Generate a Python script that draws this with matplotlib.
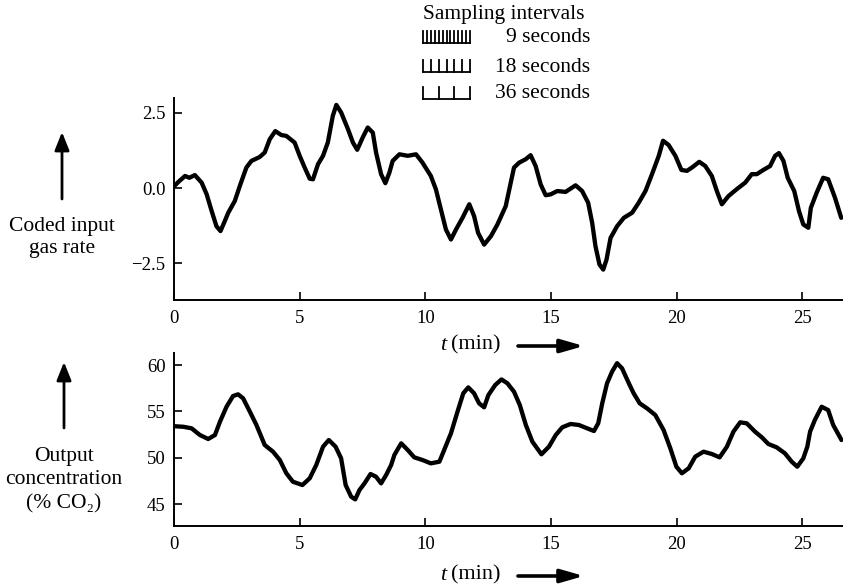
import matplotlib
matplotlib.use("Agg")
import matplotlib.pyplot as plt
from matplotlib.lines import Line2D
from matplotlib.patches import FancyArrowPatch

plt.rcParams['font.family'] = ['Liberation Serif', 'DejaVu Serif']

# Coded input gas rate (time in minutes, coded units)
input_t = [0.0, 0.17, 0.44, 0.61, 0.83, 1.1, 1.3, 1.5, 1.69, 1.85, 2.02, 2.16, 2.42, 2.62,
           2.88, 3.08, 3.41, 3.61, 3.81, 4.03, 4.27, 4.47, 4.8, 5.0, 5.2, 5.4, 5.53, 5.73,
           5.93, 6.12, 6.32, 6.46, 6.65, 6.92, 7.12, 7.29, 7.51, 7.71, 7.91, 8.04, 8.24,
           8.41, 8.57, 8.7, 8.97, 9.3, 9.63, 9.89, 10.22, 10.42, 10.62, 10.82, 11.02,
           11.22, 11.48, 11.75, 11.94, 12.1, 12.34, 12.61, 12.87, 13.2, 13.4, 13.53,
           13.73, 14.0, 14.19, 14.39, 14.59, 14.79, 14.99, 15.25, 15.58, 15.98, 16.24,
           16.48, 16.64, 16.77, 16.93, 17.08, 17.21, 17.37, 17.63, 17.9, 18.23, 18.49,
           18.76, 19.02, 19.29, 19.46, 19.68, 19.95, 20.19, 20.41, 20.61, 20.9, 21.14,
           21.4, 21.6, 21.8, 22.06, 22.39, 22.73, 22.99, 23.19, 23.45, 23.72, 23.92,
           24.07, 24.25, 24.42, 24.68, 24.87, 25.04, 25.24, 25.34, 25.57, 25.83, 26.03,
           26.3, 26.55]
input_val = [0.05, 0.2, 0.4, 0.34, 0.43, 0.18, -0.21, -0.77, -1.27, -1.43, -1.1, -0.82,
             -0.43, 0.07, 0.68, 0.9, 1.03, 1.18, 1.62, 1.89, 1.76, 1.73, 1.51, 1.07, 0.68,
             0.31, 0.29, 0.79, 1.07, 1.51, 2.4, 2.76, 2.51, 1.96, 1.51, 1.27, 1.68, 2.01,
             1.84, 1.18, 0.46, 0.16, 0.51, 0.9, 1.12, 1.07, 1.12, 0.84, 0.4, -0.04, -0.71,
             -1.38, -1.71, -1.38, -0.99, -0.54, -0.93, -1.49, -1.88, -1.6, -1.21, -0.6,
             0.18, 0.68, 0.84, 0.96, 1.09, 0.73, 0.12, -0.24, -0.21, -0.1, -0.13, 0.09,
             -0.1, -0.49, -1.16, -1.93, -2.54, -2.71, -2.38, -1.66, -1.27, -0.99, -0.82,
             -0.49, -0.1, 0.46, 1.07, 1.57, 1.43, 1.07, 0.6, 0.57, 0.68, 0.87, 0.73, 0.4,
             -0.1, -0.54, -0.27, -0.04, 0.18, 0.46, 0.46, 0.6, 0.73, 1.07, 1.16, 0.9, 0.34,
             -0.1, -0.77, -1.21, -1.32, -0.66, -0.16, 0.34, 0.29, -0.32, -0.99]

# Output CO2 concentration (time in minutes, percent CO2)
output_t = [0.0, 0.37, 0.7, 1.03, 1.36, 1.63, 1.83, 2.09, 2.35, 2.55, 2.75, 3.02, 3.28,
            3.61, 3.94, 4.21, 4.47, 4.73, 5.11, 5.4, 5.66, 5.93, 6.16, 6.43, 6.65, 6.83,
            7.05, 7.21, 7.38, 7.58, 7.82, 8.04, 8.24, 8.44, 8.64, 8.77, 9.04, 9.3, 9.56,
            9.89, 10.22, 10.56, 10.75, 11.02, 11.28, 11.51, 11.71, 11.94, 12.14, 12.34,
            12.51, 12.78, 13.03, 13.27, 13.53, 13.76, 14.0, 14.26, 14.62, 14.92, 15.19,
            15.45, 15.78, 16.11, 16.44, 16.71, 16.88, 17.04, 17.23, 17.43, 17.63, 17.83,
            18.1, 18.29, 18.53, 18.82, 19.15, 19.48, 19.75, 19.99, 20.21, 20.48, 20.74,
            21.07, 21.4, 21.71, 22.0, 22.26, 22.53, 22.79, 23.12, 23.39, 23.65, 23.98,
            24.31, 24.58, 24.8, 25.04, 25.2, 25.31, 25.5, 25.77, 26.03, 26.23, 26.56]
output_val = [53.4, 53.34, 53.17, 52.45, 52.02, 52.45, 53.89, 55.5, 56.66, 56.84, 56.41,
              54.96, 53.53, 51.37, 50.65, 49.75, 48.32, 47.41, 47.05, 47.78, 49.21, 51.19,
              51.91, 51.19, 49.93, 47.05, 45.79, 45.5, 46.51, 47.23, 48.24, 47.95, 47.23,
              48.13, 49.21, 50.3, 51.55, 50.83, 50.04, 49.75, 49.39, 49.57, 50.83, 52.63,
              54.96, 56.95, 57.59, 56.95, 55.87, 55.44, 56.76, 57.84, 58.45, 58.02, 57.12,
              55.68, 53.53, 51.73, 50.37, 51.19, 52.45, 53.28, 53.64, 53.53, 53.17, 52.88,
              53.71, 55.87, 58.02, 59.28, 60.2, 59.64, 58.02, 56.95, 55.87, 55.33, 54.61,
              52.99, 51.01, 49.03, 48.32, 48.86, 50.11, 50.65, 50.4, 50.04, 51.19, 52.81,
              53.82, 53.71, 52.81, 52.2, 51.48, 51.12, 50.47, 49.57, 49.03, 49.93, 51.19,
              52.81, 54.07, 55.5, 55.14, 53.53, 51.91]

x_ticks = [0, 5, 10, 15, 20, 25]
input_ticks = [-2.5, 0.0, 2.5]
input_tick_labels = ['\u22122.5', '0.0', '2.5']
output_ticks = [45, 50, 55, 60]

interval_labels = ['9 seconds', '18 seconds', '36 seconds']
interval_cells = [12, 6, 3]

W, H = 843, 587
fig = plt.figure(figsize=(W / 100, H / 100), dpi=100)


def fx(px):
    return px / W


def fy(py):
    return 1 - py / H


def style_axes(ax):
    for side in ('top', 'right'):
        ax.spines[side].set_visible(False)
    for side in ('left', 'bottom'):
        ax.spines[side].set_linewidth(1.4)
    ax.tick_params(direction='in', length=6, width=1.2, labelsize=13.5)
    ax.tick_params(axis='y', pad=6)
    ax.tick_params(axis='x', pad=7)
    ax.set_xlim(0, 26.62)
    ax.set_xticks(x_ticks)
    ax.set_xticklabels([str(v) for v in x_ticks])


ax1 = fig.add_axes([fx(174), fy(300), fx(843 - 174), (300 - 98) / H])
ax1.plot(input_t, input_val, color='black', lw=3.1, solid_joinstyle='round',
         solid_capstyle='round')
ax1.set_ylim(-3.72, 2.99)
ax1.set_yticks(input_ticks)
ax1.set_yticklabels(input_tick_labels)
style_axes(ax1)

ax2 = fig.add_axes([fx(174), fy(526), fx(843 - 174), (526 - 353) / H])
ax2.plot(output_t, output_val, color='black', lw=3.1, solid_joinstyle='round',
         solid_capstyle='round')
ax2.set_ylim(42.63, 61.3)
ax2.set_yticks(output_ticks)
ax2.set_yticklabels([str(v) for v in output_ticks])
style_axes(ax2)


def arrow(p0, p1, lw, hl, hw):
    fig.add_artist(FancyArrowPatch(
        (fx(p0[0]), fy(p0[1])), (fx(p1[0]), fy(p1[1])), transform=fig.transFigure,
        arrowstyle=f'-|>,head_length={hl},head_width={hw}', lw=lw, color='black',
        shrinkA=0, shrinkB=0, mutation_scale=2.0))


# Vertical arrows beside the variable names
arrow((62, 199), (62, 132), 2.0, 5.5, 2.2)
arrow((64, 428), (64, 362), 2.0, 5.5, 2.2)

label_size = 15.5
fig.text(fx(62), fy(226), 'Coded input', ha='center', va='center', fontsize=label_size)
fig.text(fx(62), fy(249), 'gas rate', ha='center', va='center', fontsize=label_size)
fig.text(fx(64), fy(456), 'Output', ha='center', va='center', fontsize=label_size)
fig.text(fx(64), fy(480), 'concentration', ha='center', va='center', fontsize=label_size)
fig.text(fx(64), fy(504), '(% CO\u2082)', ha='center', va='center', fontsize=label_size)


# Time-axis captions with right-pointing arrows
def time_caption(py):
    fig.text(fx(440), fy(py), 't', ha='left', va='center', fontsize=16, style='italic')
    fig.text(fx(451), fy(py), '(min)', ha='left', va='center', fontsize=16)
    arrow((518, py + 1), (584, py + 1), 2.6, 7.0, 2.0)


time_caption(345)
time_caption(575)

# Sampling-interval key
fig.text(fx(504), fy(15), 'Sampling intervals', ha='center', va='center', fontsize=label_size)
row_y = [43, 72, 99]
for label, cells, yb in zip(interval_labels, interval_cells, row_y):
    x0, x1 = 423, 470
    fig.add_artist(Line2D([fx(x0), fx(x1)], [fy(yb), fy(yb)], color='black', lw=1.3,
                          transform=fig.transFigure))
    for k in range(cells + 1):
        xk = x0 + (x1 - x0) * k / cells
        fig.add_artist(Line2D([fx(xk), fx(xk)], [fy(yb), fy(yb - 12)], color='black',
                              lw=1.3, transform=fig.transFigure))
    fig.text(fx(590), fy(yb - 5), label, ha='right', va='center', fontsize=label_size)

fig.savefig('out.png', dpi=100)
